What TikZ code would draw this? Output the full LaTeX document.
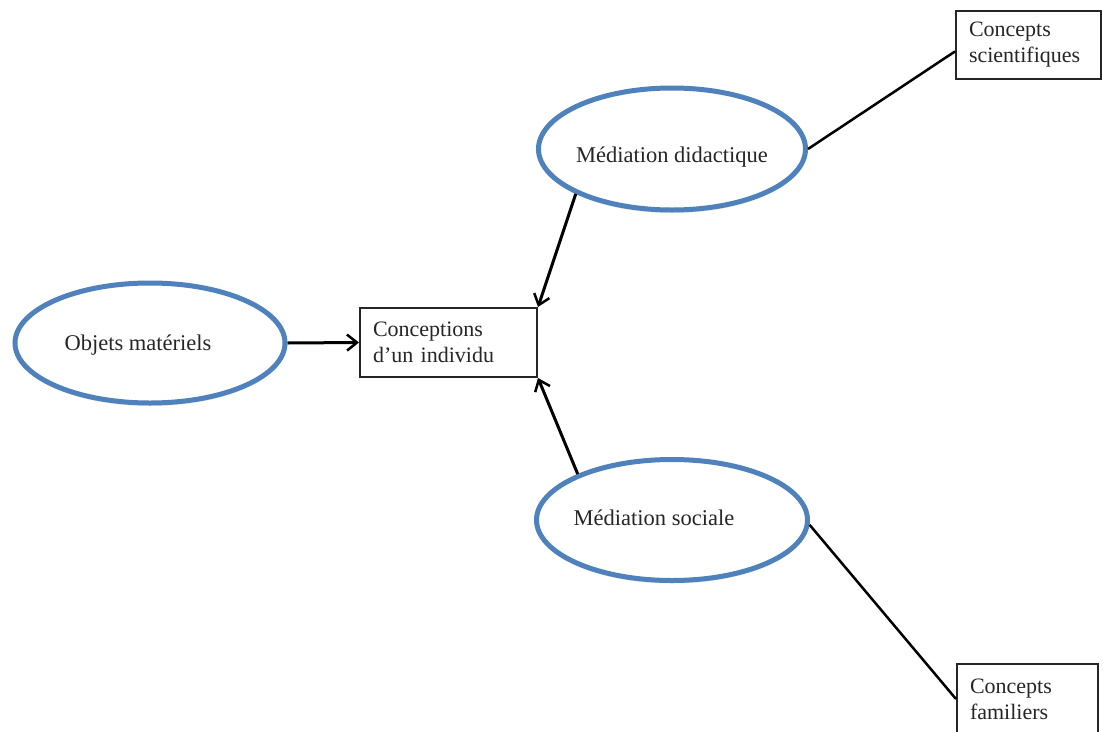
\documentclass[tikz,border=0pt]{standalone}
\usepackage{fontspec}
\setmainfont{Liberation Serif}
\usetikzlibrary{shapes.geometric,arrows.meta,shadows}
\definecolor{ellblue}{RGB}{79,129,189}
\begin{document}
\begin{tikzpicture}[x=1pt,y=-1pt,
  every node/.style={font=\fontsize{22}{26}\selectfont},
  oval/.style={ellipse, draw=ellblue, fill=white, line width=5pt, inner sep=0pt,
    drop shadow={opacity=0.18, shadow xshift=0pt, shadow yshift=-3pt}},
  txt/.style={font=\fontsize{22.5}{26}\selectfont, text=black!85},
  box/.style={rectangle, draw=black!85, line width=2pt, align=left, anchor=north west,
    inner xsep=13pt, inner ysep=0pt, minimum height=69pt, text=black!85},
  arr/.style={-{Straight Barb[length=10pt,width=16pt,line width=2.5pt]}, line width=3pt},
  link/.style={line width=2.5pt}]
\useasboundingbox (0,0) rectangle (1103,731);
\fill[white] (0,0) rectangle (1103,731);

\node[oval, minimum width=267pt, minimum height=122pt,
  label={[txt, yshift=-8pt]center:Médiation didactique}] (md) at (672,149) {};
\node[oval, minimum width=270pt, minimum height=120pt,
  label={[txt, xshift=-12pt, yshift=-2pt]center:Objets matériels}] (om) at (150,343) {};
\node[oval, minimum width=271pt, minimum height=121pt,
  label={[txt, xshift=-18pt, yshift=2pt]center:Médiation sociale}] (ms) at (672,520) {};

\node[box, text width=151pt] (ci) at (359,307) {Conceptions\\d’un individu};
\node[box, text width=119pt, minimum height=68pt] (cs) at (955,10) {Concepts\\scientifiques};
\node[box, text width=115pt, minimum height=70pt] (cf) at (956,663) {Concepts\\familiers};

\draw[arr] (om.east) -- (ci.west);
\draw[arr] (md.205) -- (ci.north east);
\draw[arr] (ms.154) -- (ci.south east);
\draw[link] (md.east) -- (cs.185);
\draw[link] (ms.-2) -- (cf.west);
\end{tikzpicture}
\end{document}
